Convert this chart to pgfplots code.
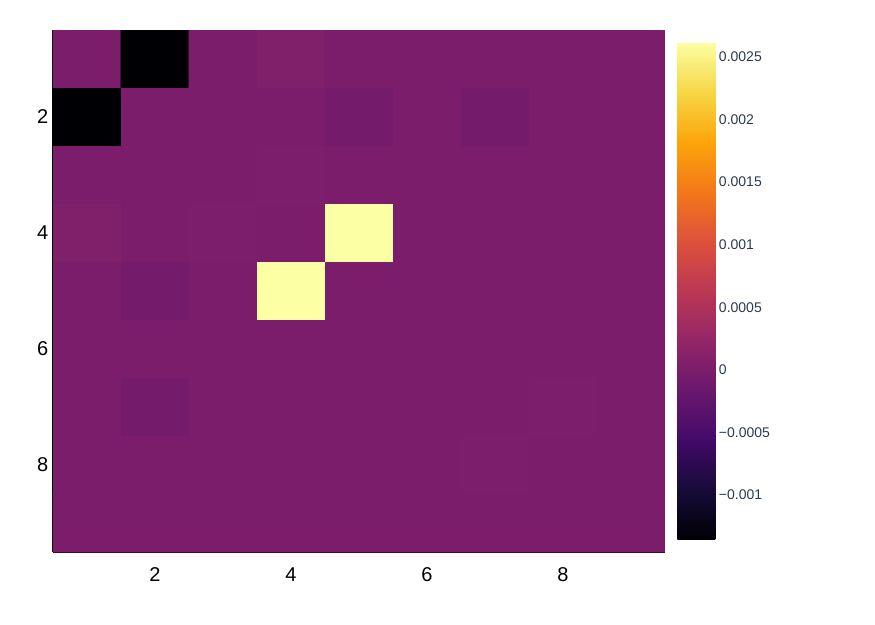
\documentclass[border=0pt]{standalone}
\usepackage{pgfplots}
\pgfplotsset{compat=1.18}
\usepackage{fontspec}
\setmainfont{Liberation Sans}
\definecolor{cbtext}{RGB}{42,58,78}

% inferno, 11 equidistant stops
\pgfplotsset{colormap={inferno}{
  rgb255=(0,0,4) rgb255=(22,11,57) rgb255=(66,10,104) rgb255=(106,23,110)
  rgb255=(147,38,103) rgb255=(188,55,84) rgb255=(221,81,58) rgb255=(243,120,25)
  rgb255=(252,165,10) rgb255=(246,215,70) rgb255=(252,255,164)}}

\begin{document}
\begin{tikzpicture}
\path[use as bounding box] (0,0) rectangle (656.25pt,468.75pt);
\begin{axis}[
  at={(39.75pt,54.75pt)}, anchor=south west,
  scale only axis, width=459pt, height=391.5pt,
  xmin=0.5, xmax=9.5, ymin=0.5, ymax=9.5,
  y dir=reverse,
  axis x line*=bottom, axis y line*=left,
  axis line style={-, black, line width=0.8pt},
  xtick={2,4,6,8}, ytick={2,4,6,8},
  xticklabels={2,4,6,8}, yticklabels={2,4,6,8},
  tick align=inside, major tick length=4pt,
  tick style={black, line width=0.8pt},
  ticklabel style={font=\fontsize{15}{18}\selectfont},
  xticklabel style={yshift=-8pt},
  colormap name=inferno,
  point meta min=-0.00136, point meta max=0.00262,
  colorbar,
  colorbar/width=28.5pt,
  colorbar style={
    at={(parent axis.south east)}, anchor=south west,
    xshift=0.75pt, yshift=9pt,
    scale only axis, width=28.5pt, height=373.5pt,
    axis line style={draw=none},
    scaled y ticks=false,
    ytick={-0.001,-0.0005,0,0.0005,0.001,0.0015,0.002,0.0025},
    yticklabels={−0.001,−0.0005,0,0.0005,0.001,0.0015,0.002,0.0025},
    major tick length=0pt, ytick style={draw=none},
    yticklabel style={font=\fontsize{10.5}{12}\selectfont, text=cbtext,
      inner sep=1pt, xshift=1.5pt},
  },
]
\addplot[matrix plot*, mesh/cols=9, point meta=explicit] table[meta=c] {
x y c
1 1 0
2 1 -0.00136
3 1 0
4 1 0.00005
5 1 0
6 1 0
7 1 0
8 1 0
9 1 0
1 2 -0.00136
2 2 0
3 2 0
4 2 0
5 2 -0.00006
6 2 0
7 2 -0.00006
8 2 0
9 2 0
1 3 0
2 3 0
3 3 0
4 3 0.00002
5 3 0
6 3 0
7 3 0
8 3 0
9 3 0
1 4 0.00005
2 4 0
3 4 0.00002
4 4 0
5 4 0.00262
6 4 0
7 4 0
8 4 0
9 4 0
1 5 0
2 5 -0.00006
3 5 0
4 5 0.00262
5 5 0
6 5 0
7 5 0
8 5 0
9 5 0
1 6 0
2 6 0
3 6 0
4 6 0
5 6 0
6 6 0
7 6 0
8 6 0
9 6 0
1 7 0
2 7 -0.00006
3 7 0
4 7 0
5 7 0
6 7 0
7 7 0
8 7 0.00002
9 7 0
1 8 0
2 8 0
3 8 0
4 8 0
5 8 0
6 8 0
7 8 0.00002
8 8 0
9 8 0
1 9 0
2 9 0
3 9 0
4 9 0
5 9 0
6 9 0
7 9 0
8 9 0
9 9 0
};
\end{axis}
\end{tikzpicture}
\end{document}
